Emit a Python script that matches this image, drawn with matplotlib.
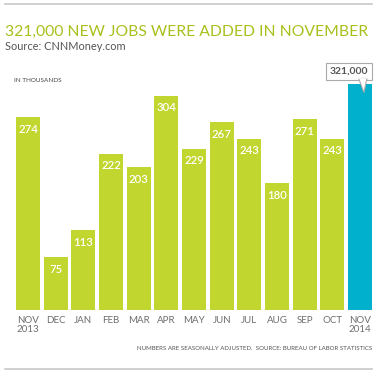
import matplotlib.pyplot as plt
from matplotlib.patches import Polygon
from matplotlib.transforms import offset_copy

months = ["NOV\n2013", "DEC", "JAN", "FEB", "MAR", "APR", "MAY",
          "JUN", "JUL", "AUG", "SEP", "OCT", "NOV\n2014"]
jobs = [274, 75, 113, 222, 203, 304, 229, 267, 243, 180, 271, 243, 321]

green = "#c1d62e"
blue = "#00b0cc"
title_green = "#a9c01c"
gray_text = "#6d6e71"

plt.rcParams['font.family'] = ['Lato', 'DejaVu Sans']

fig = plt.figure(figsize=(3.75, 3.75), dpi=100)
W = H = 375.0

# frame lines top and bottom
fig.add_artist(plt.Line2D([5 / W, 372 / W], [1 - 4 / H, 1 - 4 / H],
                          color="#c8c8c8", lw=1.2))
fig.add_artist(plt.Line2D([5 / W, 372 / W], [1 - 369 / H, 1 - 369 / H],
                          color="#c8c8c8", lw=1.2))

title = fig.text(5 / W, 1 - 32 / H, "321,000 NEW JOBS WERE ADDED IN NOVEMBER",
                 fontsize=12.6, color=title_green, va="center", ha="left")
# shrink title until it fits the 365 px the reference uses
renderer = fig.canvas.get_renderer()
w = title.get_window_extent(renderer).width
title.set_fontsize(12.6 * 365 / w)

fig.text(5 / W, 1 - 47 / H, "Source: CNNMoney.com",
         fontsize=7.9, color="#555555", va="center", ha="left")
fig.text(14 / W, 1 - 81 / H, "IN THOUSANDS",
         fontsize=4.6, color="#444444", va="center", ha="left")

# axes: pixel 13..374 horizontally, baseline at 310
pitch = 27.67
x0 = 28.0
left_px, right_px = 13.0, 374.0
bottom_px, top_px = 310.0, 60.0
scale = 0.704
ax = fig.add_axes([left_px / W, 1 - bottom_px / H,
                   (right_px - left_px) / W, (bottom_px - top_px) / H])
ax.set_xlim((left_px - x0) / pitch, (right_px - x0) / pitch)
ax.set_ylim(0, (bottom_px - top_px) / scale)

xs = list(range(len(jobs)))
colors = [green] * (len(jobs) - 1) + [blue]
ax.bar(xs, jobs, width=24 / pitch, color=colors, zorder=2)
ax.axhline(0, color="#b5b5b5", lw=0.8, zorder=3)

lab_tr = offset_copy(ax.transData, fig=fig, x=0, y=-12 * 0.72, units="points")
for x, v in zip(xs[:-1], jobs[:-1]):
    ax.text(x, v, str(v), transform=lab_tr, ha="center", va="center",
            color="white", fontsize=8.2, fontweight="semibold")

# callout box for last bar
ax.annotate("321,000", xy=(xs[-1], jobs[-1]), xytext=(xs[-1] - 0.4, jobs[-1] + 18),
            ha="center", va="center", fontsize=7.5, fontweight="bold",
            color="#555555",
            bbox=dict(boxstyle="square,pad=0.4", fc="white", ec="#aaaaaa", lw=0.8),
            zorder=5)
tail = Polygon([(xs[-1] - 0.05, jobs[-1] + 8), (xs[-1] + 0.25, jobs[-1] + 8),
                (xs[-1] + 0.14, jobs[-1] - 12)], closed=True,
               fc="white", ec="#aaaaaa", lw=0.8, zorder=6, clip_on=False)
ax.add_patch(tail)
ax.plot([xs[-1] - 0.03, xs[-1] + 0.23], [jobs[-1] + 8, jobs[-1] + 8],
        color="white", lw=1.2, zorder=7, clip_on=False)

ax.set_xticks(xs)
ax.set_xticklabels(months, fontsize=7, color=gray_text, linespacing=1.0)
ax.tick_params(axis="x", length=0, pad=4)
ax.set_yticks([])
for s in ax.spines.values():
    s.set_visible(False)

fig.text(372 / W, 1 - 349 / H,
         "NUMBERS ARE SEASONALLY ADJUSTED.  SOURCE: BUREAU OF LABOR STATISTICS",
         fontsize=4.4, color="#555555", ha="right", va="center")

fig.savefig("out.png", dpi=100, facecolor="white")
